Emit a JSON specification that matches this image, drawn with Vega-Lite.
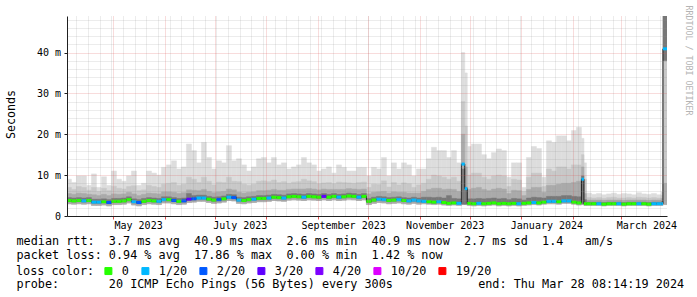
{
  "$schema": "https://vega.github.io/schema/vega-lite/v6.json",
  "width": 600,
  "height": 200,
  "autosize": {"type": "none"},
  "padding": {"left": 67, "top": 16, "right": 30, "bottom": 81},
  "background": "white",
  "config": {
    "view": {"stroke": null},
    "font": "DejaVu Sans Mono",
    "axis": {"labelFont": "DejaVu Sans Mono", "titleFont": "DejaVu Sans Mono", "labelColor": "#000000", "titleColor": "#000000", "titleFontWeight": "normal"},
    "legend": {"labelFont": "DejaVu Sans Mono", "titleFont": "DejaVu Sans Mono", "labelColor": "#000000", "titleColor": "#000000", "titleFontWeight": "normal"}
  },
  "data": {"values": [
    {"a":"2023-04-03","b":"2023-04-06","lo":3.0,"d1":3.5,"md":3.8,"d2":4.5,"m2":5.5,"m1":7.0,"mx":9.0,"ls":"0"},
    {"a":"2023-04-06","b":"2023-04-09","lo":2.9,"d1":3.4,"md":3.7,"d2":4.4,"m2":5.3,"m1":6.5,"mx":8.2,"ls":"0"},
    {"a":"2023-04-09","b":"2023-04-12","lo":3.0,"d1":3.5,"md":3.8,"d2":4.5,"m2":5.6,"m1":7.2,"mx":9.8,"ls":"0"},
    {"a":"2023-04-12","b":"2023-04-15","lo":2.9,"d1":3.4,"md":3.7,"d2":4.4,"m2":5.5,"m1":7.0,"mx":9.8,"ls":"1/20"},
    {"a":"2023-04-15","b":"2023-04-18","lo":3.0,"d1":3.5,"md":3.8,"d2":4.5,"m2":5.3,"m1":6.3,"mx":7.5,"ls":"0"},
    {"a":"2023-04-18","b":"2023-04-21","lo":2.6,"d1":3.1,"md":3.4,"d2":4.1,"m2":5.2,"m1":7.0,"mx":10.3,"ls":"1/20"},
    {"a":"2023-04-21","b":"2023-04-24","lo":2.6,"d1":3.1,"md":3.4,"d2":4.1,"m2":5.0,"m1":6.0,"mx":7.0,"ls":"1/20"},
    {"a":"2023-04-24","b":"2023-04-27","lo":2.7,"d1":3.2,"md":3.5,"d2":4.2,"m2":5.3,"m1":6.8,"mx":9.6,"ls":"0"},
    {"a":"2023-04-27","b":"2023-04-30","lo":2.5,"d1":3.0,"md":3.3,"d2":4.0,"m2":5.0,"m1":6.2,"mx":7.5,"ls":"2/20"},
    {"a":"2023-04-30","b":"2023-05-03","lo":2.8,"d1":3.3,"md":3.6,"d2":4.3,"m2":5.4,"m1":7.3,"mx":11.0,"ls":"0"},
    {"a":"2023-05-03","b":"2023-05-06","lo":2.8,"d1":3.3,"md":3.6,"d2":4.3,"m2":5.3,"m1":6.8,"mx":9.0,"ls":"0"},
    {"a":"2023-05-06","b":"2023-05-09","lo":2.9,"d1":3.4,"md":3.7,"d2":4.4,"m2":5.4,"m1":6.6,"mx":8.5,"ls":"0"},
    {"a":"2023-05-09","b":"2023-05-12","lo":3.2,"d1":3.7,"md":4.0,"d2":4.7,"m2":5.8,"m1":7.2,"mx":9.8,"ls":"0"},
    {"a":"2023-05-12","b":"2023-05-15","lo":2.7,"d1":3.2,"md":3.5,"d2":4.2,"m2":5.4,"m1":7.4,"mx":11.0,"ls":"1/20"},
    {"a":"2023-05-15","b":"2023-05-18","lo":2.5,"d1":3.0,"md":3.3,"d2":4.0,"m2":5.0,"m1":6.2,"mx":7.5,"ls":"2/20"},
    {"a":"2023-05-18","b":"2023-05-21","lo":2.8,"d1":3.3,"md":3.6,"d2":4.3,"m2":5.3,"m1":6.4,"mx":8.0,"ls":"0"},
    {"a":"2023-05-21","b":"2023-05-24","lo":3.0,"d1":3.5,"md":3.8,"d2":4.5,"m2":5.6,"m1":7.5,"mx":11.0,"ls":"0"},
    {"a":"2023-05-24","b":"2023-05-27","lo":2.9,"d1":3.4,"md":3.7,"d2":4.4,"m2":5.5,"m1":7.2,"mx":10.5,"ls":"0"},
    {"a":"2023-05-27","b":"2023-05-30","lo":2.8,"d1":3.3,"md":3.6,"d2":4.3,"m2":5.4,"m1":7.0,"mx":10.0,"ls":"1/20"},
    {"a":"2023-05-30","b":"2023-06-02","lo":3.2,"d1":3.7,"md":4.0,"d2":4.7,"m2":5.9,"m1":7.8,"mx":11.9,"ls":"1/20"},
    {"a":"2023-06-02","b":"2023-06-05","lo":3.2,"d1":3.7,"md":4.0,"d2":4.7,"m2":5.9,"m1":8.0,"mx":12.5,"ls":"0"},
    {"a":"2023-06-05","b":"2023-06-08","lo":3.0,"d1":3.5,"md":3.8,"d2":4.5,"m2":5.8,"m1":8.2,"mx":13.5,"ls":"2/20"},
    {"a":"2023-06-08","b":"2023-06-11","lo":2.8,"d1":3.3,"md":3.6,"d2":4.3,"m2":5.5,"m1":7.5,"mx":11.5,"ls":"0"},
    {"a":"2023-06-11","b":"2023-06-14","lo":2.9,"d1":3.4,"md":3.7,"d2":4.4,"m2":5.7,"m1":7.8,"mx":12.0,"ls":"2/20"},
    {"a":"2023-06-14","b":"2023-06-17","lo":3.3,"d1":3.8,"md":4.1,"d2":5.5,"m2":6.4,"m1":9.5,"mx":17.6,"ls":"3/20"},
    {"a":"2023-06-17","b":"2023-06-20","lo":3.4,"d1":3.9,"md":4.2,"d2":5.0,"m2":6.3,"m1":9.0,"mx":16.0,"ls":"2/20"},
    {"a":"2023-06-20","b":"2023-06-23","lo":3.6,"d1":4.1,"md":4.4,"d2":5.1,"m2":6.2,"m1":8.2,"mx":13.0,"ls":"1/20"},
    {"a":"2023-06-23","b":"2023-06-26","lo":3.6,"d1":4.1,"md":4.4,"d2":5.1,"m2":6.5,"m1":9.5,"mx":18.0,"ls":"1/20"},
    {"a":"2023-06-26","b":"2023-06-29","lo":3.3,"d1":3.8,"md":4.1,"d2":4.8,"m2":6.0,"m1":8.5,"mx":14.3,"ls":"0"},
    {"a":"2023-06-29","b":"2023-07-02","lo":3.1,"d1":3.6,"md":3.9,"d2":4.6,"m2":5.7,"m1":7.6,"mx":11.5,"ls":"0"},
    {"a":"2023-07-02","b":"2023-07-05","lo":3.2,"d1":3.7,"md":4.0,"d2":4.7,"m2":5.9,"m1":8.3,"mx":13.5,"ls":"2/20"},
    {"a":"2023-07-05","b":"2023-07-08","lo":3.4,"d1":3.9,"md":4.2,"d2":4.9,"m2":6.0,"m1":8.2,"mx":13.0,"ls":"0"},
    {"a":"2023-07-08","b":"2023-07-11","lo":3.8,"d1":4.3,"md":4.6,"d2":5.3,"m2":6.6,"m1":9.5,"mx":17.2,"ls":"1/20"},
    {"a":"2023-07-11","b":"2023-07-14","lo":3.7,"d1":4.2,"md":4.5,"d2":5.2,"m2":6.4,"m1":8.5,"mx":13.5,"ls":"2/20"},
    {"a":"2023-07-14","b":"2023-07-17","lo":3.1,"d1":3.6,"md":3.9,"d2":4.6,"m2":5.8,"m1":8.4,"mx":14.0,"ls":"1/20"},
    {"a":"2023-07-17","b":"2023-07-20","lo":3.0,"d1":3.5,"md":3.8,"d2":4.5,"m2":5.6,"m1":7.8,"mx":12.5,"ls":"0"},
    {"a":"2023-07-20","b":"2023-07-23","lo":3.2,"d1":3.7,"md":4.0,"d2":4.7,"m2":5.8,"m1":7.5,"mx":11.0,"ls":"0"},
    {"a":"2023-07-23","b":"2023-07-26","lo":3.3,"d1":3.8,"md":4.1,"d2":4.8,"m2":5.9,"m1":7.8,"mx":12.0,"ls":"1/20"},
    {"a":"2023-07-26","b":"2023-07-29","lo":3.5,"d1":4.0,"md":4.3,"d2":5.0,"m2":6.2,"m1":8.5,"mx":14.0,"ls":"0"},
    {"a":"2023-07-29","b":"2023-08-01","lo":3.5,"d1":4.0,"md":4.3,"d2":5.0,"m2":6.2,"m1":8.6,"mx":14.3,"ls":"0"},
    {"a":"2023-08-01","b":"2023-08-04","lo":3.6,"d1":4.1,"md":4.4,"d2":5.1,"m2":6.3,"m1":8.4,"mx":13.0,"ls":"1/20"},
    {"a":"2023-08-04","b":"2023-08-07","lo":3.8,"d1":4.3,"md":4.6,"d2":5.3,"m2":6.5,"m1":8.8,"mx":14.3,"ls":"0"},
    {"a":"2023-08-07","b":"2023-08-10","lo":3.7,"d1":4.2,"md":4.5,"d2":5.2,"m2":6.3,"m1":8.2,"mx":12.5,"ls":"0"},
    {"a":"2023-08-10","b":"2023-08-13","lo":3.6,"d1":4.1,"md":4.4,"d2":5.1,"m2":6.3,"m1":8.4,"mx":13.0,"ls":"1/20"},
    {"a":"2023-08-13","b":"2023-08-16","lo":3.9,"d1":4.4,"md":4.7,"d2":5.4,"m2":6.5,"m1":8.0,"mx":11.5,"ls":"0"},
    {"a":"2023-08-16","b":"2023-08-19","lo":4.0,"d1":4.5,"md":4.8,"d2":5.5,"m2":6.6,"m1":8.3,"mx":12.0,"ls":"0"},
    {"a":"2023-08-19","b":"2023-08-22","lo":3.9,"d1":4.4,"md":4.7,"d2":5.4,"m2":6.6,"m1":8.4,"mx":12.5,"ls":"0"},
    {"a":"2023-08-22","b":"2023-08-25","lo":3.8,"d1":4.3,"md":4.6,"d2":5.3,"m2":6.6,"m1":9.0,"mx":14.3,"ls":"1/20"},
    {"a":"2023-08-25","b":"2023-08-28","lo":4.0,"d1":4.5,"md":4.8,"d2":5.5,"m2":6.7,"m1":8.6,"mx":13.0,"ls":"0"},
    {"a":"2023-08-28","b":"2023-08-31","lo":3.9,"d1":4.4,"md":4.7,"d2":5.4,"m2":6.6,"m1":8.4,"mx":12.5,"ls":"0"},
    {"a":"2023-08-31","b":"2023-09-03","lo":3.8,"d1":4.3,"md":4.6,"d2":5.3,"m2":6.4,"m1":7.9,"mx":11.0,"ls":"0"},
    {"a":"2023-09-03","b":"2023-09-06","lo":4.0,"d1":4.5,"md":4.8,"d2":5.5,"m2":6.6,"m1":8.1,"mx":11.5,"ls":"3/20"},
    {"a":"2023-09-06","b":"2023-09-09","lo":3.8,"d1":4.3,"md":4.6,"d2":5.3,"m2":6.5,"m1":8.2,"mx":12.0,"ls":"0"},
    {"a":"2023-09-09","b":"2023-09-12","lo":4.0,"d1":4.5,"md":4.8,"d2":5.5,"m2":6.5,"m1":7.9,"mx":10.5,"ls":"0"},
    {"a":"2023-09-12","b":"2023-09-15","lo":3.8,"d1":4.3,"md":4.6,"d2":5.3,"m2":6.5,"m1":8.3,"mx":12.5,"ls":"1/20"},
    {"a":"2023-09-15","b":"2023-09-18","lo":3.9,"d1":4.4,"md":4.7,"d2":5.4,"m2":6.5,"m1":8.2,"mx":11.9,"ls":"0"},
    {"a":"2023-09-18","b":"2023-09-21","lo":4.1,"d1":4.6,"md":4.9,"d2":5.6,"m2":6.7,"m1":8.1,"mx":11.0,"ls":"0"},
    {"a":"2023-09-21","b":"2023-09-24","lo":4.0,"d1":4.5,"md":4.8,"d2":5.5,"m2":6.6,"m1":8.0,"mx":11.0,"ls":"0"},
    {"a":"2023-09-24","b":"2023-09-27","lo":3.8,"d1":4.3,"md":4.6,"d2":5.3,"m2":6.5,"m1":8.2,"mx":11.9,"ls":"1/20"},
    {"a":"2023-09-27","b":"2023-09-30","lo":4.0,"d1":4.5,"md":4.8,"d2":5.5,"m2":6.6,"m1":8.3,"mx":11.9,"ls":"0"},
    {"a":"2023-09-30","b":"2023-10-03","lo":2.8,"d1":3.3,"md":3.6,"d2":4.3,"m2":5.4,"m1":7.0,"mx":9.8,"ls":"0"},
    {"a":"2023-10-03","b":"2023-10-06","lo":3.1,"d1":3.6,"md":3.9,"d2":4.6,"m2":5.8,"m1":7.8,"mx":11.9,"ls":"0"},
    {"a":"2023-10-06","b":"2023-10-09","lo":3.3,"d1":3.8,"md":4.1,"d2":4.8,"m2":5.9,"m1":7.7,"mx":11.5,"ls":"1/20"},
    {"a":"2023-10-09","b":"2023-10-12","lo":3.2,"d1":3.7,"md":4.0,"d2":4.7,"m2":6.0,"m1":8.6,"mx":14.3,"ls":"1/20"},
    {"a":"2023-10-12","b":"2023-10-15","lo":3.0,"d1":3.5,"md":3.8,"d2":4.5,"m2":5.6,"m1":7.1,"mx":9.8,"ls":"0"},
    {"a":"2023-10-15","b":"2023-10-18","lo":3.1,"d1":3.6,"md":3.9,"d2":4.6,"m2":5.9,"m1":8.2,"mx":13.0,"ls":"0"},
    {"a":"2023-10-18","b":"2023-10-21","lo":3.2,"d1":3.7,"md":4.0,"d2":4.7,"m2":5.8,"m1":7.6,"mx":11.5,"ls":"1/20"},
    {"a":"2023-10-21","b":"2023-10-24","lo":3.0,"d1":3.5,"md":3.8,"d2":4.5,"m2":5.8,"m1":8.1,"mx":13.0,"ls":"0"},
    {"a":"2023-10-24","b":"2023-10-27","lo":2.9,"d1":3.4,"md":3.7,"d2":4.4,"m2":5.6,"m1":7.9,"mx":12.5,"ls":"1/20"},
    {"a":"2023-10-27","b":"2023-10-30","lo":3.1,"d1":3.6,"md":3.9,"d2":4.6,"m2":5.6,"m1":7.0,"mx":9.8,"ls":"1/20"},
    {"a":"2023-10-30","b":"2023-11-02","lo":2.9,"d1":3.4,"md":3.7,"d2":4.4,"m2":5.6,"m1":7.6,"mx":11.5,"ls":"1/20"},
    {"a":"2023-11-02","b":"2023-11-05","lo":3.0,"d1":3.3,"md":3.6,"d2":4.6,"m2":6.0,"m1":8.0,"mx":11.5,"ls":"1/20"},
    {"a":"2023-11-05","b":"2023-11-08","lo":2.9,"d1":3.2,"md":3.5,"d2":4.6,"m2":6.5,"m1":9.0,"mx":14.0,"ls":"0"},
    {"a":"2023-11-08","b":"2023-11-11","lo":2.8,"d1":3.1,"md":3.4,"d2":4.5,"m2":6.8,"m1":10.0,"mx":16.8,"ls":"0"},
    {"a":"2023-11-11","b":"2023-11-14","lo":2.9,"d1":3.2,"md":3.5,"d2":4.6,"m2":6.8,"m1":9.8,"mx":16.0,"ls":"1/20"},
    {"a":"2023-11-14","b":"2023-11-17","lo":2.7,"d1":3.0,"md":3.3,"d2":4.4,"m2":6.5,"m1":9.5,"mx":16.0,"ls":"0"},
    {"a":"2023-11-17","b":"2023-11-20","lo":2.6,"d1":2.9,"md":3.1,"d2":5.0,"m2":6.6,"m1":9.0,"mx":14.3,"ls":"0"},
    {"a":"2023-11-20","b":"2023-11-23","lo":2.7,"d1":3.0,"md":3.2,"d2":4.3,"m2":6.5,"m1":9.5,"mx":16.0,"ls":"0"},
    {"a":"2023-11-23","b":"2023-11-26","lo":2.6,"d1":2.9,"md":3.1,"d2":4.2,"m2":6.0,"m1":8.5,"mx":13.0,"ls":"1/20"},
    {"a":"2023-11-26","b":"2023-11-28","lo":2.8,"d1":2.9,"md":12.7,"d2":11.5,"m2":20,"m1":28,"mx":40,"ls":"1/20"},
    {"a":"2023-11-28","b":"2023-11-29T12:00:00Z","lo":2.8,"d1":2.9,"md":6.7,"d2":7.0,"m2":12,"m1":22,"mx":35,"ls":"1/20"},
    {"a":"2023-11-29T12:00:00Z","b":"2023-12-02","lo":2.6,"d1":2.9,"md":3.1,"d2":4.2,"m2":6.5,"m1":10.0,"mx":17.0,"ls":"0"},
    {"a":"2023-12-02","b":"2023-12-05","lo":2.5,"d1":2.8,"md":3.0,"d2":4.2,"m2":6.8,"m1":10.5,"mx":17.6,"ls":"0"},
    {"a":"2023-12-05","b":"2023-12-08","lo":2.6,"d1":2.9,"md":3.1,"d2":4.3,"m2":7.0,"m1":10.5,"mx":17.6,"ls":"1/20"},
    {"a":"2023-12-08","b":"2023-12-11","lo":2.5,"d1":2.8,"md":3.0,"d2":4.2,"m2":6.5,"m1":9.5,"mx":15.0,"ls":"0"},
    {"a":"2023-12-11","b":"2023-12-14","lo":2.6,"d1":2.9,"md":3.1,"d2":4.3,"m2":6.2,"m1":9.0,"mx":14.0,"ls":"0"},
    {"a":"2023-12-14","b":"2023-12-17","lo":2.7,"d1":3.0,"md":3.2,"d2":4.4,"m2":6.6,"m1":9.8,"mx":15.5,"ls":"0"},
    {"a":"2023-12-17","b":"2023-12-20","lo":2.5,"d1":2.8,"md":3.0,"d2":4.2,"m2":6.8,"m1":10.0,"mx":16.4,"ls":"0"},
    {"a":"2023-12-20","b":"2023-12-23","lo":2.6,"d1":2.9,"md":3.1,"d2":4.3,"m2":6.6,"m1":9.8,"mx":16.0,"ls":"0"},
    {"a":"2023-12-23","b":"2023-12-26","lo":2.5,"d1":2.8,"md":3.0,"d2":4.0,"m2":5.5,"m1":7.2,"mx":9.5,"ls":"0"},
    {"a":"2023-12-26","b":"2023-12-29","lo":2.6,"d1":2.9,"md":3.1,"d2":4.3,"m2":6.3,"m1":9.0,"mx":13.0,"ls":"0"},
    {"a":"2023-12-29","b":"2024-01-01","lo":2.5,"d1":2.8,"md":3.0,"d2":4.2,"m2":6.2,"m1":8.8,"mx":13.0,"ls":"1/20"},
    {"a":"2024-01-01","b":"2024-01-04","lo":2.6,"d1":2.9,"md":3.1,"d2":3.9,"m2":5.0,"m1":6.0,"mx":7.0,"ls":"0"},
    {"a":"2024-01-04","b":"2024-01-07","lo":2.7,"d1":3.0,"md":3.2,"d2":4.4,"m2":6.5,"m1":9.5,"mx":14.3,"ls":"0"},
    {"a":"2024-01-07","b":"2024-01-10","lo":2.8,"d1":3.1,"md":3.3,"d2":4.6,"m2":7.0,"m1":10.5,"mx":17.0,"ls":"1/20"},
    {"a":"2024-01-10","b":"2024-01-13","lo":2.7,"d1":3.0,"md":3.2,"d2":4.5,"m2":7.0,"m1":10.5,"mx":16.5,"ls":"0"},
    {"a":"2024-01-13","b":"2024-01-16","lo":2.9,"d1":3.2,"md":3.4,"d2":4.4,"m2":5.8,"m1":7.2,"mx":9.5,"ls":"0"},
    {"a":"2024-01-16","b":"2024-01-19","lo":3.0,"d1":3.3,"md":3.6,"d2":4.8,"m2":7.5,"m1":11.5,"mx":18.4,"ls":"1/20"},
    {"a":"2024-01-19","b":"2024-01-22","lo":3.0,"d1":3.3,"md":3.6,"d2":4.8,"m2":7.5,"m1":11.0,"mx":18.0,"ls":"1/20"},
    {"a":"2024-01-22","b":"2024-01-25","lo":2.9,"d1":3.2,"md":3.5,"d2":4.8,"m2":7.8,"m1":12.0,"mx":19.6,"ls":"0"},
    {"a":"2024-01-25","b":"2024-01-28","lo":3.1,"d1":3.4,"md":3.7,"d2":5.0,"m2":8.0,"m1":12.0,"mx":19.6,"ls":"1/20"},
    {"a":"2024-01-28","b":"2024-01-31","lo":3.1,"d1":3.4,"md":3.7,"d2":5.0,"m2":8.0,"m1":11.5,"mx":18.4,"ls":"1/20"},
    {"a":"2024-01-31","b":"2024-02-03","lo":2.9,"d1":3.2,"md":3.4,"d2":4.8,"m2":8.2,"m1":12.5,"mx":20.9,"ls":"0"},
    {"a":"2024-02-03","b":"2024-02-06","lo":2.7,"d1":3.0,"md":3.2,"d2":4.7,"m2":8.5,"m1":12.5,"mx":21.7,"ls":"0"},
    {"a":"2024-02-06","b":"2024-02-07T12:00:00Z","lo":2.8,"d1":3.0,"md":9.0,"d2":9.8,"m2":12,"m1":15,"mx":19,"ls":"1/20"},
    {"a":"2024-02-07T12:00:00Z","b":"2024-02-09","lo":2.6,"d1":2.8,"md":3.0,"d2":4.0,"m2":5.5,"m1":9.0,"mx":13.0,"ls":"0"},
    {"a":"2024-02-09","b":"2024-02-12","lo":2.6,"d1":2.8,"md":3.0,"d2":3.4,"m2":3.9,"m1":4.5,"mx":5.6,"ls":"0"},
    {"a":"2024-02-12","b":"2024-02-15","lo":2.6,"d1":2.8,"md":3.0,"d2":3.4,"m2":3.9,"m1":4.4,"mx":5.3,"ls":"0"},
    {"a":"2024-02-15","b":"2024-02-18","lo":2.6,"d1":2.8,"md":3.0,"d2":3.4,"m2":3.9,"m1":4.5,"mx":5.5,"ls":"1/20"},
    {"a":"2024-02-18","b":"2024-02-21","lo":2.5,"d1":2.7,"md":2.9,"d2":3.3,"m2":3.8,"m1":4.3,"mx":5.2,"ls":"0"},
    {"a":"2024-02-21","b":"2024-02-24","lo":2.6,"d1":2.8,"md":3.0,"d2":3.4,"m2":3.9,"m1":4.5,"mx":5.4,"ls":"0"},
    {"a":"2024-02-24","b":"2024-02-27","lo":2.6,"d1":2.8,"md":3.0,"d2":3.4,"m2":3.9,"m1":4.6,"mx":5.6,"ls":"0"},
    {"a":"2024-02-27","b":"2024-03-01","lo":2.6,"d1":2.8,"md":3.0,"d2":3.4,"m2":3.9,"m1":4.4,"mx":5.3,"ls":"1/20"},
    {"a":"2024-03-01","b":"2024-03-04","lo":2.5,"d1":2.7,"md":2.9,"d2":3.3,"m2":3.8,"m1":4.4,"mx":5.5,"ls":"0"},
    {"a":"2024-03-04","b":"2024-03-07","lo":2.6,"d1":2.8,"md":3.0,"d2":3.4,"m2":3.9,"m1":4.5,"mx":5.4,"ls":"0"},
    {"a":"2024-03-07","b":"2024-03-10","lo":2.6,"d1":2.8,"md":3.0,"d2":3.4,"m2":3.9,"m1":4.4,"mx":5.2,"ls":"0"},
    {"a":"2024-03-10","b":"2024-03-13","lo":2.6,"d1":2.8,"md":3.0,"d2":3.4,"m2":3.9,"m1":4.6,"mx":5.7,"ls":"1/20"},
    {"a":"2024-03-13","b":"2024-03-16","lo":2.6,"d1":2.8,"md":3.0,"d2":3.4,"m2":3.9,"m1":4.5,"mx":5.4,"ls":"0"},
    {"a":"2024-03-16","b":"2024-03-19","lo":2.5,"d1":2.7,"md":2.9,"d2":3.3,"m2":3.8,"m1":4.4,"mx":5.3,"ls":"0"},
    {"a":"2024-03-19","b":"2024-03-22","lo":2.6,"d1":2.8,"md":3.0,"d2":3.4,"m2":3.9,"m1":4.5,"mx":5.5,"ls":"1/20"},
    {"a":"2024-03-22","b":"2024-03-25","lo":2.6,"d1":2.8,"md":3.0,"d2":3.4,"m2":3.9,"m1":4.4,"mx":5.2,"ls":"1/20"},
    {"a":"2024-03-25","b":"2024-03-25T22:00:00Z","lo":2.6,"d1":2.8,"md":3.0,"d2":3.6,"m2":4.3,"m1":5.0,"mx":5.8,"ls":"1/20"},
    {"a":"2024-03-25T22:00:00Z","b":"2024-03-28T08:14:00Z","lo":2.8,"d1":38,"md":40.9,"d2":49,"m2":8,"m1":38,"mx":49.1,"ls":"1/20"}
  ]},
  "layer": [
    {
      "mark": {"type": "rect", "color": "#dddddd", "stroke": "#dddddd", "strokeWidth": 0.5, "clip": true},
      "encoding": {
        "x": {"field": "a", "type": "temporal",
          "scale": {"type": "utc", "domain": [{"year": 2023, "month": 4, "date": 3, "hours": 8, "minutes": 14, "utc": true}, {"year": 2024, "month": 3, "date": 28, "hours": 8, "minutes": 14, "utc": true}]},
          "axis": {"orient": "bottom", "tickCount": {"interval": "week", "step": 1}, "grid": true, "gridColor": "#8f8f8f", "gridOpacity": 0.35, "gridDash": [1, 1], "labels": false, "ticks": false, "domain": false,
            "title": "probe:\u00a0\u00a0\u00a0\u00a0\u00a0\u00a0\u00a020 ICMP Echo Pings (56 Bytes) every 300s\u00a0\u00a0\u00a0\u00a0\u00a0\u00a0\u00a0\u00a0\u00a0\u00a0\u00a0\u00a0end: Thu Mar 28 08:14:19 2024",
            "titleX": -51, "titleY": 71.5, "titleAlign": "left", "titleAnchor": "start", "titleBaseline": "alphabetic", "titleFontSize": 11.8, "zindex": 1}},
        "x2": {"field": "b"},
        "y": {"field": "lo", "type": "quantitative",
          "scale": {"domain": [0, 48.93], "nice": false, "zero": false},
          "axis": {"orient": "left", "values": [2, 4, 6, 8, 12, 14, 16, 18, 22, 24, 26, 28, 32, 34, 36, 38, 42, 44, 46, 48], "grid": true, "gridColor": "#8f8f8f", "gridOpacity": 0.35, "gridDash": [1, 1], "labels": false, "ticks": false, "domain": false, "title": null, "zindex": 1}},
        "y2": {"field": "mx"}
      }
    },
    {
      "mark": {"type": "rect", "color": "#c8c8c8", "stroke": "#c8c8c8", "strokeWidth": 0.5, "clip": true},
      "encoding": {
        "x": {"field": "a", "type": "temporal",
          "axis": {"orient": "bottom", "tickCount": {"interval": "month", "step": 1}, "grid": true, "gridColor": "#de4f4f", "gridOpacity": 0.4, "gridDash": [1, 1], "labels": false, "ticks": true, "tickSize": 3, "tickColor": "#de4f4f", "domain": true, "domainColor": "#1f1f1f", "domainWidth": 1, "title": null, "zindex": 1}},
        "x2": {"field": "b"},
        "y": {"field": "lo", "type": "quantitative",
          "axis": {"orient": "left", "values": [0, 10, 20, 30, 40], "grid": true, "gridColor": "#de4f4f", "gridOpacity": {"condition": {"test": "datum.value === 0", "value": 0}, "value": 0.4}, "gridDash": [1, 1],
            "labelExpr": "datum.value == 0 ? '0\u00a0\u00a0' : datum.value + ' m'", "labelFontSize": 10, "labelPadding": 3.5,
            "ticks": true, "tickSize": 3, "tickColor": "#1f1f1f", "domain": true, "domainColor": "#1f1f1f",
            "title": "Seconds", "titleX": -56, "titleY": 98, "titleAngle": -90, "titleAlign": "center", "titleBaseline": "middle", "titleFontSize": 11.66, "zindex": 1}},
        "y2": {"field": "m1"}
      }
    },
    {
      "mark": {"type": "rect", "color": "#aaaaaa", "stroke": "#aaaaaa", "strokeWidth": 0.5, "clip": true},
      "encoding": {
        "x": {"field": "a", "type": "temporal",
          "axis": {"orient": "bottom",
            "values": [{"year": 2023, "month": 5, "date": 16, "utc": true}, {"year": 2023, "month": 7, "date": 16, "utc": true}, {"year": 2023, "month": 9, "date": 16, "utc": true}, {"year": 2023, "month": 11, "date": 16, "utc": true}, {"year": 2024, "month": 1, "date": 16, "utc": true}, {"year": 2024, "month": 3, "date": 16, "utc": true}],
            "format": "%B %Y", "labelFontSize": 10, "labelPadding": 4, "labelFlush": false, "labelOverlap": false,
            "grid": false, "ticks": false, "domain": false,
            "title": ["median rtt:\u00a0\u00a03.7 ms avg\u00a0\u00a040.9 ms max\u00a0\u00a02.6 ms min\u00a0\u00a040.9 ms now\u00a0\u00a02.7 ms sd\u00a0\u00a01.4\u00a0\u00a0\u00a0am/s", "packet loss: 0.94 % avg\u00a0\u00a017.86 % max\u00a0\u00a00.00 % min\u00a0\u00a01.42 % now"],
            "titleX": -51, "titleY": 28.3, "titleAlign": "left", "titleAnchor": "start", "titleBaseline": "alphabetic", "titleFontSize": 11.8, "titleLineHeight": 14.4}},
        "x2": {"field": "b"},
        "y": {"field": "lo", "type": "quantitative",
          "axis": {"orient": "right", "labels": false, "ticks": false, "domain": false, "grid": false,
            "title": "RRDTOOL / TOBI OETIKER", "titleAngle": 90, "titleX": 20.5, "titleY": 44, "titleAlign": "center", "titleBaseline": "middle", "titleFontSize": 8.3, "titleColor": "#b4b4b4"}},
        "y2": {"field": "m2"}
      }
    },
    {
      "mark": {"type": "rect", "color": "#787878", "stroke": "#787878", "strokeWidth": 0.5, "clip": true},
      "encoding": {
        "x": {"field": "a", "type": "temporal", "axis": null},
        "x2": {"field": "b"},
        "y": {"field": "d1", "type": "quantitative", "axis": null},
        "y2": {"field": "d2"}
      }
    },
    {
      "mark": {"type": "line", "color": "#202020", "strokeWidth": 1, "interpolate": "step-after", "clip": true},
      "encoding": {
        "x": {"field": "a", "type": "temporal", "axis": null},
        "y": {"field": "md", "type": "quantitative", "axis": null}
      }
    },
    {
      "mark": {"type": "rule", "strokeWidth": 3, "clip": true},
      "encoding": {
        "x": {"field": "a", "type": "temporal", "axis": null},
        "x2": {"field": "b"},
        "y": {"field": "md", "type": "quantitative", "axis": null},
        "color": {"field": "ls", "type": "nominal",
          "scale": {"domain": ["0", "1/20", "2/20", "3/20", "4/20", "10/20", "19/20"], "range": ["#26ff00", "#00b8ff", "#0059ff", "#5e00ff", "#7e00ff", "#dd00ff", "#ff0000"]},
          "legend": {"orient": "none", "legendX": -51, "legendY": 249, "direction": "horizontal", "title": "loss color:", "titleOrient": "left", "titlePadding": 7.5,
            "titleFontSize": 11.8, "labelFontSize": 11.8, "symbolType": "square", "symbolSize": 49, "symbolStrokeColor": "#000000", "symbolStrokeWidth": 1, "labelOffset": 7.5, "columnPadding": 10,
            "encode": {"symbols": {"update": {"fill": {"scale": "color", "field": "value"}, "fillOpacity": {"value": 1}, "stroke": {"value": "#000000"}, "strokeWidth": {"value": 1}, "opacity": {"value": 1}}}}}}
      }
    }
  ],
  "resolve": {"axis": {"x": "independent", "y": "independent"}}
}
